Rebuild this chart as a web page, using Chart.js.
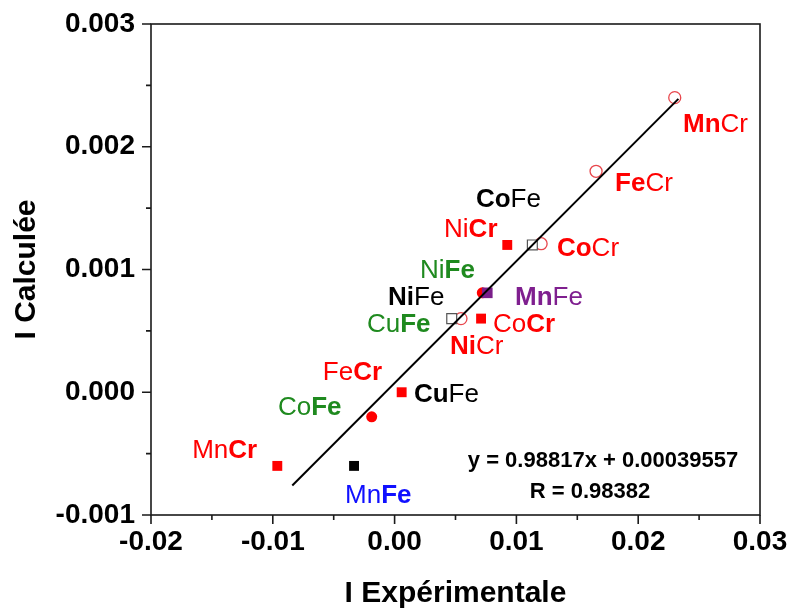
<!DOCTYPE html>
<html>
<head>
<meta charset="utf-8">
<title>I Calculée vs I Expérimentale</title>
<script src="https://cdn.jsdelivr.net/npm/chart.js@4.4.1/dist/chart.umd.min.js"></script>
<style>
  html, body { margin: 0; padding: 0; background: #fff; }
  canvas { display: block; }
</style>
</head>
<body>
<canvas id="chart" width="792" height="612"></canvas>
<script>
// ---- data ----
// open red circles
const openCircleNames = ["MnCr", "FeCr", "CoCr", "NiCr"];
const openCircleX = [0.0230, 0.01654, 0.01203, 0.00545];
const openCircleY = [0.00240, 0.00180, 0.00121, 0.00060];

// filled red circles
const redCircleNames = ["NiFe", "CoFe"];
const redCircleX = [0.0072, -0.00188];
const redCircleY = [0.00081, -0.00020];

// filled red squares
const redSquareNames = ["NiCr", "CoCr", "CuFe", "MnCr"];
const redSquareX = [0.00925, 0.0071, 0.00058, -0.00963];
const redSquareY = [0.00120, 0.00060, 0.00000, -0.00060];

// filled purple / black squares (MnFe)
const purpleSquareX = [0.00761];
const purpleSquareY = [0.00081];
const blackSquareX = [-0.00333];
const blackSquareY = [-0.00060];

// open black squares
const openSquareNames = ["CoFe", "NiFe"];
const openSquareX = [0.01131, 0.00469];
const openSquareY = [0.00120, 0.00060];

// fitted line end points
const fitX = [-0.0084, 0.0233];
const fitY = [-0.00076, 0.00239];

const xTicks = [-0.02, -0.01, 0.00, 0.01, 0.02, 0.03];
const yTicks = [-0.001, 0.000, 0.001, 0.002, 0.003];

const fitText = ["y = 0.98817x + 0.00039557", "R = 0.98382"];

// labels: text parts [string, bold], colour, anchor (left edge / middle) in data units
const RED = "#ff0000", GREEN = "#1f8a1f", BLACK = "#000000", PURPLE = "#7f1f8f", BLUE = "#1010ff";
const pointLabels = [
  { parts: [["Mn", true], ["Cr", false]], color: RED, x: 0.02368, y: 0.00218 },
  { parts: [["Fe", true], ["Cr", false]], color: RED, x: 0.01810, y: 0.00170 },
  { parts: [["Co", true], ["Cr", false]], color: RED, x: 0.01333, y: 0.00117 },
  { parts: [["Co", true], ["Fe", false]], color: BLACK, x: 0.00668, y: 0.00157 },
  { parts: [["Ni", false], ["Cr", true]], color: RED, x: 0.00406, y: 0.00132 },
  { parts: [["Mn", true], ["Fe", false]], color: PURPLE, x: 0.00989, y: 0.00077 },
  { parts: [["Ni", false], ["Fe", true]], color: GREEN, x: 0.00209, y: 0.00099 },
  { parts: [["Ni", true], ["Fe", false]], color: BLACK, x: -0.00054, y: 0.00077 },
  { parts: [["Ni", true], ["Cr", false]], color: RED, x: 0.00455, y: 0.00037 },
  { parts: [["Co", false], ["Cr", true]], color: RED, x: 0.00808, y: 0.00055 },
  { parts: [["Cu", false], ["Fe", true]], color: GREEN, x: -0.00227, y: 0.00055 },
  { parts: [["Fe", false], ["Cr", true]], color: RED, x: -0.00589, y: 0.00016 },
  { parts: [["Co", false], ["Fe", true]], color: GREEN, x: -0.00958, y: -0.00013 },
  { parts: [["Cu", true], ["Fe", false]], color: BLACK, x: 0.00159, y: -0.00002 },
  { parts: [["Mn", false], ["Cr", true]], color: RED, x: -0.01662, y: -0.00048 },
  { parts: [["Mn", false], ["Fe", true]], color: BLUE, x: -0.00407, y: -0.00084 },
];

const FONT = "'Liberation Sans', Arial, Helvetica, sans-serif";

function pts(xs, ys) {
  return xs.map((x, i) => ({ x, y: ys[i] }));
}

function isMajor(v, step) {
  const k = v / step;
  return Math.abs(k - Math.round(k)) < 1e-6;
}

// ticks, frame, point labels and fit text
const decorPlugin = {
  id: "decor",
  afterDraw(chart) {
    const { ctx, chartArea: a, scales } = chart;
    ctx.save();
    ctx.strokeStyle = "#1a1a1a";
    ctx.lineWidth = 1.6;
    ctx.strokeRect(a.left, a.top, a.right - a.left, a.bottom - a.top);

    ctx.beginPath();
    scales.x.ticks.forEach((t) => {
      const px = scales.x.getPixelForValue(t.value);
      const len = isMajor(t.value, 0.01) ? 9 : 5;
      ctx.moveTo(px, a.bottom);
      ctx.lineTo(px, a.bottom + len);
    });
    scales.y.ticks.forEach((t) => {
      const py = scales.y.getPixelForValue(t.value);
      const len = isMajor(t.value, 0.001) ? 9 : 5;
      ctx.moveTo(a.left, py);
      ctx.lineTo(a.left - len, py);
    });
    ctx.stroke();

    ctx.textBaseline = "middle";
    ctx.textAlign = "left";
    pointLabels.forEach((lab) => {
      let px = scales.x.getPixelForValue(lab.x);
      const py = scales.y.getPixelForValue(lab.y);
      ctx.fillStyle = lab.color;
      lab.parts.forEach(([txt, bold]) => {
        ctx.font = (bold ? "bold " : "") + "26px " + FONT;
        ctx.fillText(txt, px, py);
        px += ctx.measureText(txt).width;
      });
    });

    ctx.fillStyle = "#000";
    ctx.textAlign = "center";
    ctx.font = "bold 22px " + FONT;
    ctx.fillText(fitText[0], a.right - 157, a.bottom - 54);
    ctx.fillText(fitText[1], a.right - 170, a.bottom - 23);
    ctx.restore();
  },
};

new Chart(document.getElementById("chart"), {
  type: "scatter",
  data: {
    datasets: [
      {
        label: "fit",
        data: pts(fitX, fitY),
        showLine: true,
        borderColor: "#000",
        borderWidth: 2,
        pointRadius: 0,
        order: 0,
      },
      {
        label: "open squares",
        data: pts(openSquareX, openSquareY),
        pointStyle: "rect",
        pointRadius: 7,
        backgroundColor: "#ffffff",
        borderColor: "#555",
        borderWidth: 1.2,
        order: 1,
      },
      {
        label: "MnFe purple",
        data: pts(purpleSquareX, purpleSquareY),
        pointStyle: "rect",
        pointRadius: 7.5,
        backgroundColor: "#7a1f8a",
        borderWidth: 0,
        order: 2,
      },
      {
        label: "MnFe black",
        data: pts(blackSquareX, blackSquareY),
        pointStyle: "rect",
        pointRadius: 7,
        backgroundColor: "#000",
        borderWidth: 0,
        order: 3,
      },
      {
        label: "red squares",
        data: pts(redSquareX, redSquareY),
        pointStyle: "rect",
        pointRadius: 7,
        backgroundColor: RED,
        borderWidth: 0,
        order: 4,
      },
      {
        label: "red circles",
        data: pts(redCircleX, redCircleY),
        pointStyle: "circle",
        pointRadius: 5.5,
        backgroundColor: RED,
        borderColor: RED,
        borderWidth: 0,
        order: 5,
      },
      {
        label: "open circles",
        data: pts(openCircleX, openCircleY),
        pointStyle: "circle",
        pointRadius: 6,
        backgroundColor: "rgba(255,255,255,0)",
        borderColor: "#e8464c",
        borderWidth: 1.3,
        order: 6,
      },
    ],
  },
  options: {
    responsive: false,
    animation: false,
    devicePixelRatio: 1,
    layout: { padding: { top: 24, right: 32, left: 0, bottom: 0 } },
    plugins: { legend: { display: false }, tooltip: { enabled: false } },
    scales: {
      x: {
        type: "linear",
        min: xTicks[0],
        max: xTicks[xTicks.length - 1],
        // tick marks drawn by the plugin; tickLength only spaces the labels
        grid: { display: false, drawTicks: true, tickLength: 10 },
        border: { display: false },
        ticks: {
          stepSize: 0.005,
          autoSkip: false,
          maxRotation: 0,
          padding: 0,
          color: "#000",
          font: { family: FONT, size: 28, weight: "bold" },
          callback: (v) => (isMajor(v, 0.01) ? v.toFixed(2) : ""),
        },
        title: {
          display: true,
          text: "I Expérimentale",
          color: "#000",
          font: { family: FONT, size: 30, weight: "bold" },
          padding: { top: 0, bottom: 0 },
        },
        afterFit: (s) => { s.height = 97; },
      },
      y: {
        type: "linear",
        min: yTicks[0],
        max: yTicks[yTicks.length - 1],
        grid: { display: false, drawTicks: true, tickLength: 16 },
        border: { display: false },
        ticks: {
          stepSize: 0.0005,
          autoSkip: false,
          padding: 0,
          color: "#000",
          font: { family: FONT, size: 28, weight: "bold" },
          callback: (v) => (isMajor(v, 0.001) ? v.toFixed(3) : ""),
        },
        title: {
          display: true,
          text: "I Calculée",
          color: "#000",
          font: { family: FONT, size: 30, weight: "bold" },
          padding: { top: 9, bottom: 0 },
        },
        afterFit: (s) => { s.width = 151; },
      },
    },
  },
  plugins: [decorPlugin],
});
</script>
</body>
</html>
